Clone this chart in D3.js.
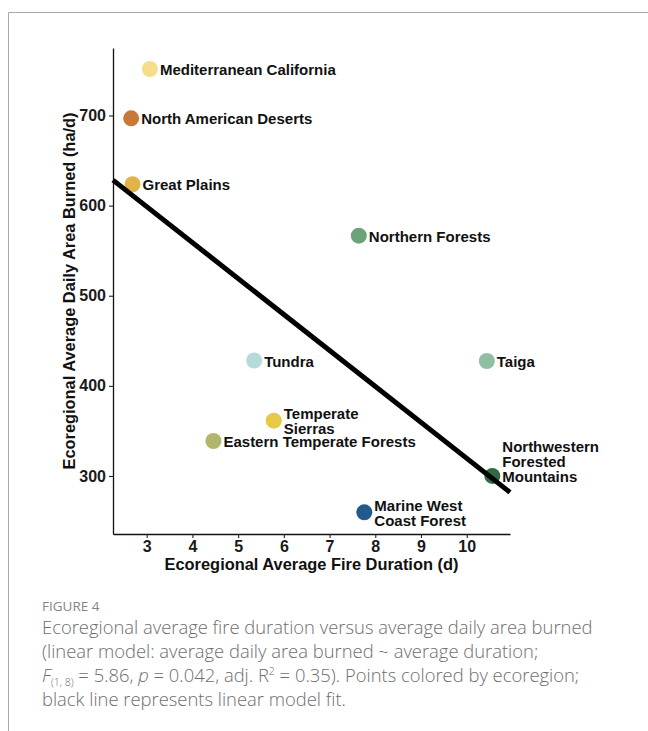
<!DOCTYPE html>
<html>
<head>
<meta charset="utf-8">
<script src="https://cdn.jsdelivr.net/npm/d3@7"></script>
<style>
  html, body { margin: 0; padding: 0; background: #fff; }
  svg { display: block; }
</style>
</head>
<body>
<svg id="chart" width="648" height="731"></svg>
<script>
// Ecoregion averages: fire duration (days) vs daily area burned (ha/d)
const ecoregions = [
  "Mediterranean California",
  "North American Deserts",
  "Great Plains",
  "Northern Forests",
  "Taiga",
  "Northwestern Forested Mountains",
  "Tundra",
  "Temperate Sierras",
  "Eastern Temperate Forests",
  "Marine West Coast Forest"
];
const avgDuration = [3.07, 2.66, 2.69, 7.64, 10.44, 10.56, 5.35, 5.78, 4.46, 7.76];
const avgDailyArea = [751.6, 696.9, 623.7, 566.6, 427.6, 300.0, 428.1, 361.4, 338.8, 259.7];
const regionColors = [
  "#f6dd8c", "#c8793a", "#e2b347", "#6da378", "#8ebfa5",
  "#2e6b45", "#b5dad9", "#e9c846", "#b2b66a", "#215b8b"
];

// Linear model fit (daily area burned ~ duration)
const fitIntercept = 718.6;
const fitSlope = -39.9;

const xTicks = [3, 4, 5, 6, 7, 8, 9, 10];
const yTicks = [300, 400, 500, 600, 700];

const svg = d3.select("#chart");

// Page frame
svg.append("path")
  .attr("d", "M8.5,731 L8.5,12.5 L648,12.5")
  .attr("fill", "none")
  .attr("stroke", "#a8a8a8")
  .attr("stroke-width", 1);

const panel = { left: 113, right: 510, top: 48, bottom: 534 };

const x = d3.scaleLinear().domain([2.263, 10.947]).range([panel.left, panel.right]);
const y = d3.scaleLinear().domain([235.6, 774.9]).range([panel.bottom, panel.top]);

const axisFont = "'Liberation Sans', Arial, Helvetica, sans-serif";

// Axes
const xAxis = svg.append("g")
  .attr("transform", `translate(0,${panel.bottom})`)
  .call(d3.axisBottom(x).tickValues(xTicks).tickSize(4).tickPadding(3).tickSizeOuter(0));
const yAxis = svg.append("g")
  .attr("transform", `translate(${panel.left},0)`)
  .call(d3.axisLeft(y).tickValues(yTicks).tickSize(4).tickPadding(3).tickSizeOuter(0));

[xAxis, yAxis].forEach(g => {
  g.select(".domain").attr("stroke", "#111").attr("stroke-width", 1.3);
  g.selectAll(".tick line").attr("stroke", "#222").attr("stroke-width", 1.1);
  g.selectAll(".tick text")
    .attr("fill", "#1a1a1a")
    .attr("font-family", axisFont)
    .attr("font-weight", "bold")
    .attr("font-size", "16px");
});

// Axis titles
svg.append("text")
  .attr("x", (panel.left + panel.right) / 2)
  .attr("y", 570)
  .attr("text-anchor", "middle")
  .attr("font-family", axisFont)
  .attr("font-weight", "bold")
  .attr("font-size", "16.4px")
  .attr("fill", "#111")
  .text("Ecoregional Average Fire Duration (d)");

svg.append("text")
  .attr("transform", `translate(75,${(panel.top + panel.bottom) / 2}) rotate(-90)`)
  .attr("text-anchor", "middle")
  .attr("font-family", axisFont)
  .attr("font-weight", "bold")
  .attr("font-size", "16.4px")
  .attr("fill", "#111")
  .text("Ecoregional Average Daily Area Burned (ha/d)");

// Points
const data = ecoregions.map((name, i) => ({
  name, dur: avgDuration[i], area: avgDailyArea[i], color: regionColors[i]
}));

svg.append("g").selectAll("circle")
  .data(data)
  .join("circle")
  .attr("cx", d => x(d.dur))
  .attr("cy", d => y(d.area))
  .attr("r", 8)
  .attr("fill", d => d.color);

// Fitted regression line, drawn across the panel
const [x0, x1] = x.domain();
svg.append("line")
  .attr("x1", x(x0)).attr("y1", y(fitIntercept + fitSlope * x0))
  .attr("x2", x(x1)).attr("y2", y(fitIntercept + fitSlope * x1))
  .attr("stroke", "#000")
  .attr("stroke-width", 5);

// Point labels; long names wrap onto several lines
const wrapped = {
  "Temperate Sierras": ["Temperate", "Sierras"],
  "Marine West Coast Forest": ["Marine West", "Coast Forest"],
  "Northwestern Forested Mountains": ["Northwestern", "Forested", "Mountains"]
};
const bottomAnchored = new Set(["Northwestern Forested Mountains"]);
const lineH = 15;

const labels = svg.append("g")
  .attr("font-family", axisFont)
  .attr("font-weight", "bold")
  .attr("font-size", "15px")
  .attr("fill", "#111");

data.forEach(d => {
  const lines = wrapped[d.name] || [d.name];
  const n = lines.length;
  const cy = y(d.area);
  const firstY = bottomAnchored.has(d.name)
    ? cy - (n - 1) * lineH
    : cy - (n - 1) * lineH / 2;
  const t = labels.append("text")
    .attr("x", x(d.dur) + 10)
    .attr("y", firstY)
    .attr("dominant-baseline", "central");
  lines.forEach((ln, i) => {
    t.append("tspan")
      .attr("x", x(d.dur) + 10)
      .attr("y", firstY + i * lineH)
      .text(ln);
  });
});

// Figure caption
const capFont = "'Open Sans', 'Noto Sans', sans-serif";
svg.append("text")
  .attr("x", 42).attr("y", 611)
  .attr("font-family", capFont)
  .attr("font-size", "13.5px")
  .attr("fill", "#858585")
  .text("FIGURE 4");

const cap = svg.append("g")
  .attr("font-family", capFont)
  .attr("font-weight", 300)
  .attr("font-size", "18.4px")
  .attr("fill", "#6e6e6e");

cap.append("text").attr("x", 42).attr("y", 634)
  .text("Ecoregional average fire duration versus average daily area burned");
cap.append("text").attr("x", 42).attr("y", 658)
  .text("(linear model: average daily area burned ~ average duration;");

const l3 = cap.append("text").attr("x", 42).attr("y", 682);
l3.append("tspan").attr("font-style", "italic").text("F");
l3.append("tspan").attr("font-size", "10.5px").attr("dy", 4).text("(1, 8)");
l3.append("tspan").attr("dy", -4).text(" = 5.86, ");
l3.append("tspan").attr("font-style", "italic").text("p");
l3.append("tspan").text(" = 0.042, adj. R");
l3.append("tspan").attr("font-size", "10.5px").attr("dy", -7).text("2");
l3.append("tspan").attr("dy", 7).text(" = 0.35). Points colored by ecoregion;");

cap.append("text").attr("x", 42).attr("y", 706)
  .text("black line represents linear model fit.");
</script>
</body>
</html>
